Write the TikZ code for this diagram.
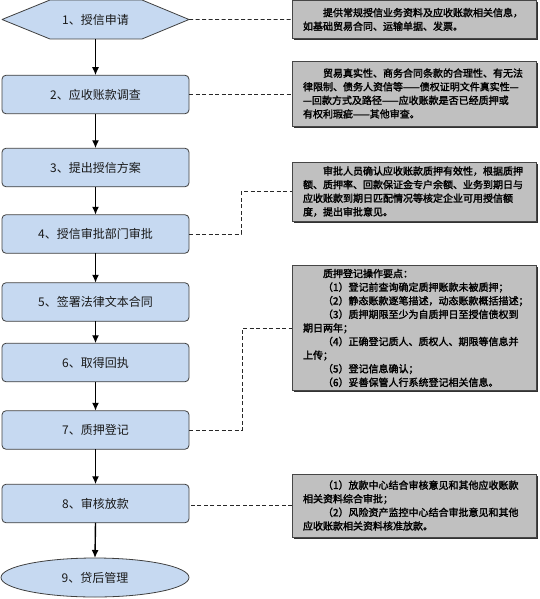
\documentclass[tikz,border=0pt]{standalone}
\usepackage{fontspec}
\setmainfont{Noto Sans CJK SC}
\newfontfamily\flowfont{Noto Sans CJK SC}
\newfontfamily\notefont[FakeBold=2]{Noto Sans CJK SC}
\usetikzlibrary{arrows.meta,shapes.geometric,shadows,backgrounds}
\definecolor{flowfill}{RGB}{198,217,241}
\definecolor{flowline}{RGB}{64,64,64}
\definecolor{flowtext}{RGB}{25,25,25}
\definecolor{notefill}{RGB}{192,192,192}
\definecolor{noteline}{RGB}{70,70,70}
\definecolor{noteshadow}{RGB}{50,50,50}
\definecolor{linkcol}{RGB}{40,40,40}
\tikzset{
  flowbox/.style={draw=flowline, fill=flowfill, rounded corners=4pt, minimum width=187pt, minimum height=38.5pt, inner sep=0pt, outer sep=0pt, font=\flowfont\fontsize{12}{14}\selectfont, text=flowtext, line width=0.8pt},
  flowhex/.style={minimum width=187pt, minimum height=39pt, inner sep=0pt, outer sep=0pt, font=\flowfont\fontsize{12}{14}\selectfont, text=flowtext},
  flowend/.style={ellipse, draw=flowline, fill=flowfill, minimum width=188pt, minimum height=39pt, inner sep=0pt, outer sep=0pt, font=\flowfont\fontsize{12}{14}\selectfont, text=flowtext, line width=0.8pt},
  notebox/.style={draw=noteline, fill=notefill, line width=0.6pt, text width=222pt, inner xsep=11pt, inner ysep=0pt, outer sep=0pt, align=left, font=\notefont\fontsize{10}{13.6}\selectfont, text=black, drop shadow={shadow xshift=1.6pt, shadow yshift=-1.6pt, fill=noteshadow, opacity=1}},
  flowarrow/.style={-{Latex[length=8pt,width=7pt]}, line width=1.4pt, black},
  notelink/.style={draw=linkcol, line width=0.8pt, dash pattern=on 4pt off 2.5pt}
}
\begin{document}
\begin{tikzpicture}[x=1pt,y=1pt]
\useasboundingbox (0,0) rectangle (539,-599);
% flow nodes
\node[flowhex] (b1) at (95.5,-19.5) {1、授信申请};
\begin{scope}[on background layer]
\draw[draw=flowline, fill=flowfill, line width=0.8pt, line join=round]
  (b1.west) -- ([xshift=48pt]b1.north west) -- ([xshift=-47pt]b1.north east)
  -- (b1.east) -- ([xshift=-47pt]b1.south east) -- ([xshift=48pt]b1.south west) -- cycle;
\end{scope}
\node[flowbox] (b2) at (95.5,-94.5) {2、应收账款调查};
\node[flowbox] (b3) at (95.5,-167.5) {3、提出授信方案};
\node[flowbox] (b4) at (95.5,-234) {4、授信审批部门审批};
\node[flowbox] (b5) at (95.5,-302) {5、签署法律文本合同};
\node[flowbox] (b6) at (95.5,-362.5) {6、取得回执};
\node[flowbox] (b7) at (95.5,-430) {7、质押登记};
\node[flowbox] (b8) at (95.5,-503.5) {8、审核放款};
\node[flowend] (b9) at (95,-577.5) {9、贷后管理};
% arrows
\draw[flowarrow] (b1.south) -- (b2.north);
\draw[flowarrow] (b2.south) -- (b3.north);
\draw[flowarrow] (b3.south) -- (b4.north);
\draw[flowarrow] (b4.south) -- (b5.north);
\draw[flowarrow] (b5.south) -- (b6.north);
\draw[flowarrow] (b6.south) -- (b7.north);
\draw[flowarrow] (b7.south) -- (b8.north);
\draw[flowarrow] (b8.south) -- (b9.north);
% notes
\node[notebox, minimum height=37.2pt] (a1) at (414,-19.4) {　　提供常规授信业务资料及应收账款相关信息，\\如基础贸易合同、运输单据、发票。};
\node[notebox, minimum height=65pt] (a2) at (414,-93.5) {　　贸易真实性、商务合同条款的合理性、有无法\\律限制、债务人资信等——债权证明文件真实性—\\—回款方式及路径——应收账款是否已经质押或\\有权利瑕疵——其他审查。};
\node[notebox, minimum height=59pt] (a3) at (414,-191.5) {　　审批人员确认应收账款质押有效性，根据质押\\额、质押率、回款保证金专户余额、业务到期日与\\应收账款到期日匹配情况等核定企业可用授信额\\度，提出审批意见。};
\node[notebox, minimum height=125pt] (a4) at (414,-328) {　　质押登记操作要点：\\　　（1）登记前查询确定质押账款未被质押；\\　　（2）静态账款逐笔描述，动态账款概括描述；\\　　（3）质押期限至少为自质押日至授信债权到\\期日两年；\\　　（4）正确登记质人、质权人、期限等信息并\\上传；\\　　（5）登记信息确认；\\　　（6）妥善保管人行系统登记相关信息。};
\node[notebox, minimum height=63pt] (a5) at (414,-505.5) {　　（1）放款中心结合审核意见和其他应收账款\\相关资料综合审批；\\　　（2）风险资产监控中心结合审批意见和其他\\应收账款相关资料核准放款。};
% links
\coordinate (k4) at (241,0);
\coordinate (k7) at (242,0);
\draw[notelink] (b1.east) -- (a1.west);
\draw[notelink] (b2.east) -- (b2.east -| a2.west);
\draw[notelink] (b4.east) -- (b4.east -| k4) |- (a3.west);
\draw[notelink] (b7.east) -- (b7.east -| k7) |- (a4.west);
\draw[notelink] (a5.west) -- (a5.west -| b8.east);
\end{tikzpicture}
\end{document}
